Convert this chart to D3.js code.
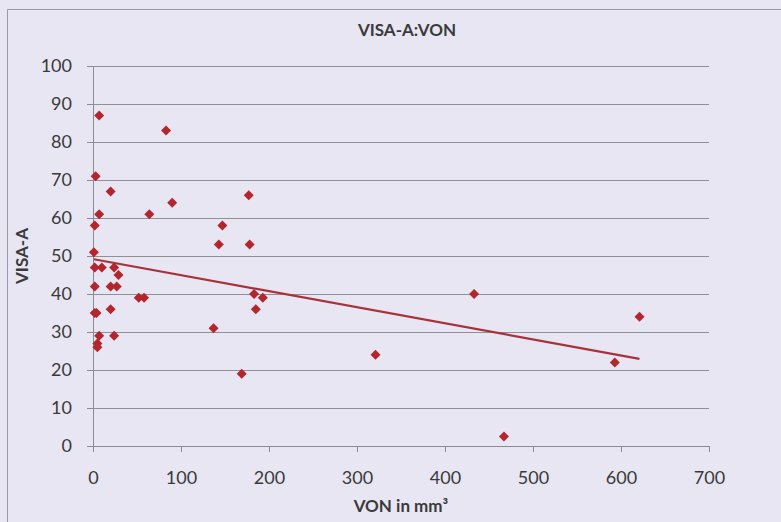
<!DOCTYPE html>
<html>
<head>
<meta charset="utf-8">
<script src="https://cdn.jsdelivr.net/npm/d3@7"></script>
<style>
  body { margin: 0; background: #e8e6f3; }
  text { font-family: Lato, "Open Sans", sans-serif; fill: #3a3a3a; }
</style>
</head>
<body>
<div id="chart"></div>
<script>
// VON volume (mm3) and VISA-A score
var von  = [7, 83, 3, 20, 90, 7, 64, 2, 1, 2, 10, 24, 29, 2, 20, 27, 52, 58, 2, 4, 20, 7, 24, 5, 5,
            147, 177, 143, 178, 183, 193, 185, 137, 169, 321, 433, 621, 593, 467];
var visa = [87, 83, 71, 67, 64, 61, 61, 58, 51, 47, 47, 47, 45, 42, 42, 42, 39, 39, 35, 35, 36, 29, 29, 27, 26,
            58, 66, 53, 53, 40, 39, 36, 31, 19, 24, 40, 34, 22, 2.5];
var xTicks = [0, 100, 200, 300, 400, 500, 600, 700];
var yTicks = [0, 10, 20, 30, 40, 50, 60, 70, 80, 90, 100];

var W = 781, H = 522;
var margin = {top: 66, right: 72, bottom: 76, left: 93},
    width = W - margin.left - margin.right,
    height = H - margin.top - margin.bottom;

var root = d3.select("#chart").append("svg")
    .attr("width", W)
    .attr("height", H);

root.append("rect")
    .attr("width", W).attr("height", H)
    .attr("fill", "#e8e6f3");

// chart frame (only left and top edges are in view)
root.append("path")
    .attr("d", "M7.5," + H + "V9.5H" + W)
    .attr("fill", "none")
    .attr("stroke", "#9a9aa6")
    .attr("stroke-width", 1);

var svg = root.append("g")
    .attr("transform", "translate(" + margin.left + "," + margin.top + ")");

var x = d3.scaleLinear().domain([0, 700]).range([0, width]);
var y = d3.scaleLinear().domain([0, 100]).range([height, 0]);

// gridlines
svg.append("g")
  .selectAll("line")
  .data(yTicks.filter(function(d) { return d > 0; }))
  .enter().append("line")
    .attr("x1", 0).attr("x2", width)
    .attr("y1", function(d) { return Math.round(y(d)) + 0.5; })
    .attr("y2", function(d) { return Math.round(y(d)) + 0.5; })
    .attr("stroke", "#909098")
    .attr("stroke-width", 1);

// X axis
var xAxis = svg.append("g")
    .attr("transform", "translate(0," + height + ")")
    .call(d3.axisBottom(x).tickValues(xTicks).tickSize(6).tickSizeOuter(0).tickPadding(19));

// Y axis
var yAxis = svg.append("g")
    .call(d3.axisLeft(y).tickValues(yTicks).tickSize(6).tickSizeOuter(0).tickPadding(15));

[xAxis, yAxis].forEach(function(a) {
  a.select(".domain").attr("stroke", "#8a8a92");
  a.selectAll(".tick line").attr("stroke", "#8a8a92");
  a.selectAll("text")
    .style("font-family", "Lato, 'Open Sans', sans-serif")
    .style("font-size", "18px")
    .attr("fill", "#3a3a3a");
});

// linear trendline (least squares), spanning the data's x range
var mx = d3.mean(von), my = d3.mean(visa);
var sxy = d3.sum(von, function(v, i) { return (v - mx) * (visa[i] - my); });
var sxx = d3.sum(von, function(v) { return (v - mx) * (v - mx); });
var slope = sxy / sxx, intercept = my - slope * mx;
var ext = d3.extent(von);

svg.append("line")
    .attr("x1", x(ext[0])).attr("y1", y(intercept + slope * ext[0]))
    .attr("x2", x(ext[1])).attr("y2", y(intercept + slope * ext[1]))
    .attr("stroke", "#a8323a")
    .attr("stroke-width", 2.2);

// diamond markers
svg.selectAll("path.pt")
  .data(von)
  .enter().append("path")
    .attr("class", "pt")
    .attr("d", "M0,-5L5,0L0,5L-5,0Z")
    .attr("transform", function(d, i) { return "translate(" + x(d) + "," + y(visa[i]) + ")"; })
    .attr("fill", "#b3262d");

// titles
root.append("text")
    .attr("x", 407).attr("y", 36)
    .attr("text-anchor", "middle")
    .style("font-size", "17px").style("font-weight", "bold")
    .text("VISA-A:VON");

root.append("text")
    .attr("x", 401).attr("y", 512)
    .attr("text-anchor", "middle")
    .style("font-size", "17px").style("font-weight", "bold")
    .text("VON in mm³");

root.append("text")
    .attr("transform", "translate(28,256) rotate(-90)")
    .attr("text-anchor", "middle")
    .style("font-size", "17px").style("font-weight", "bold")
    .text("VISA-A");
</script>
</body>
</html>
